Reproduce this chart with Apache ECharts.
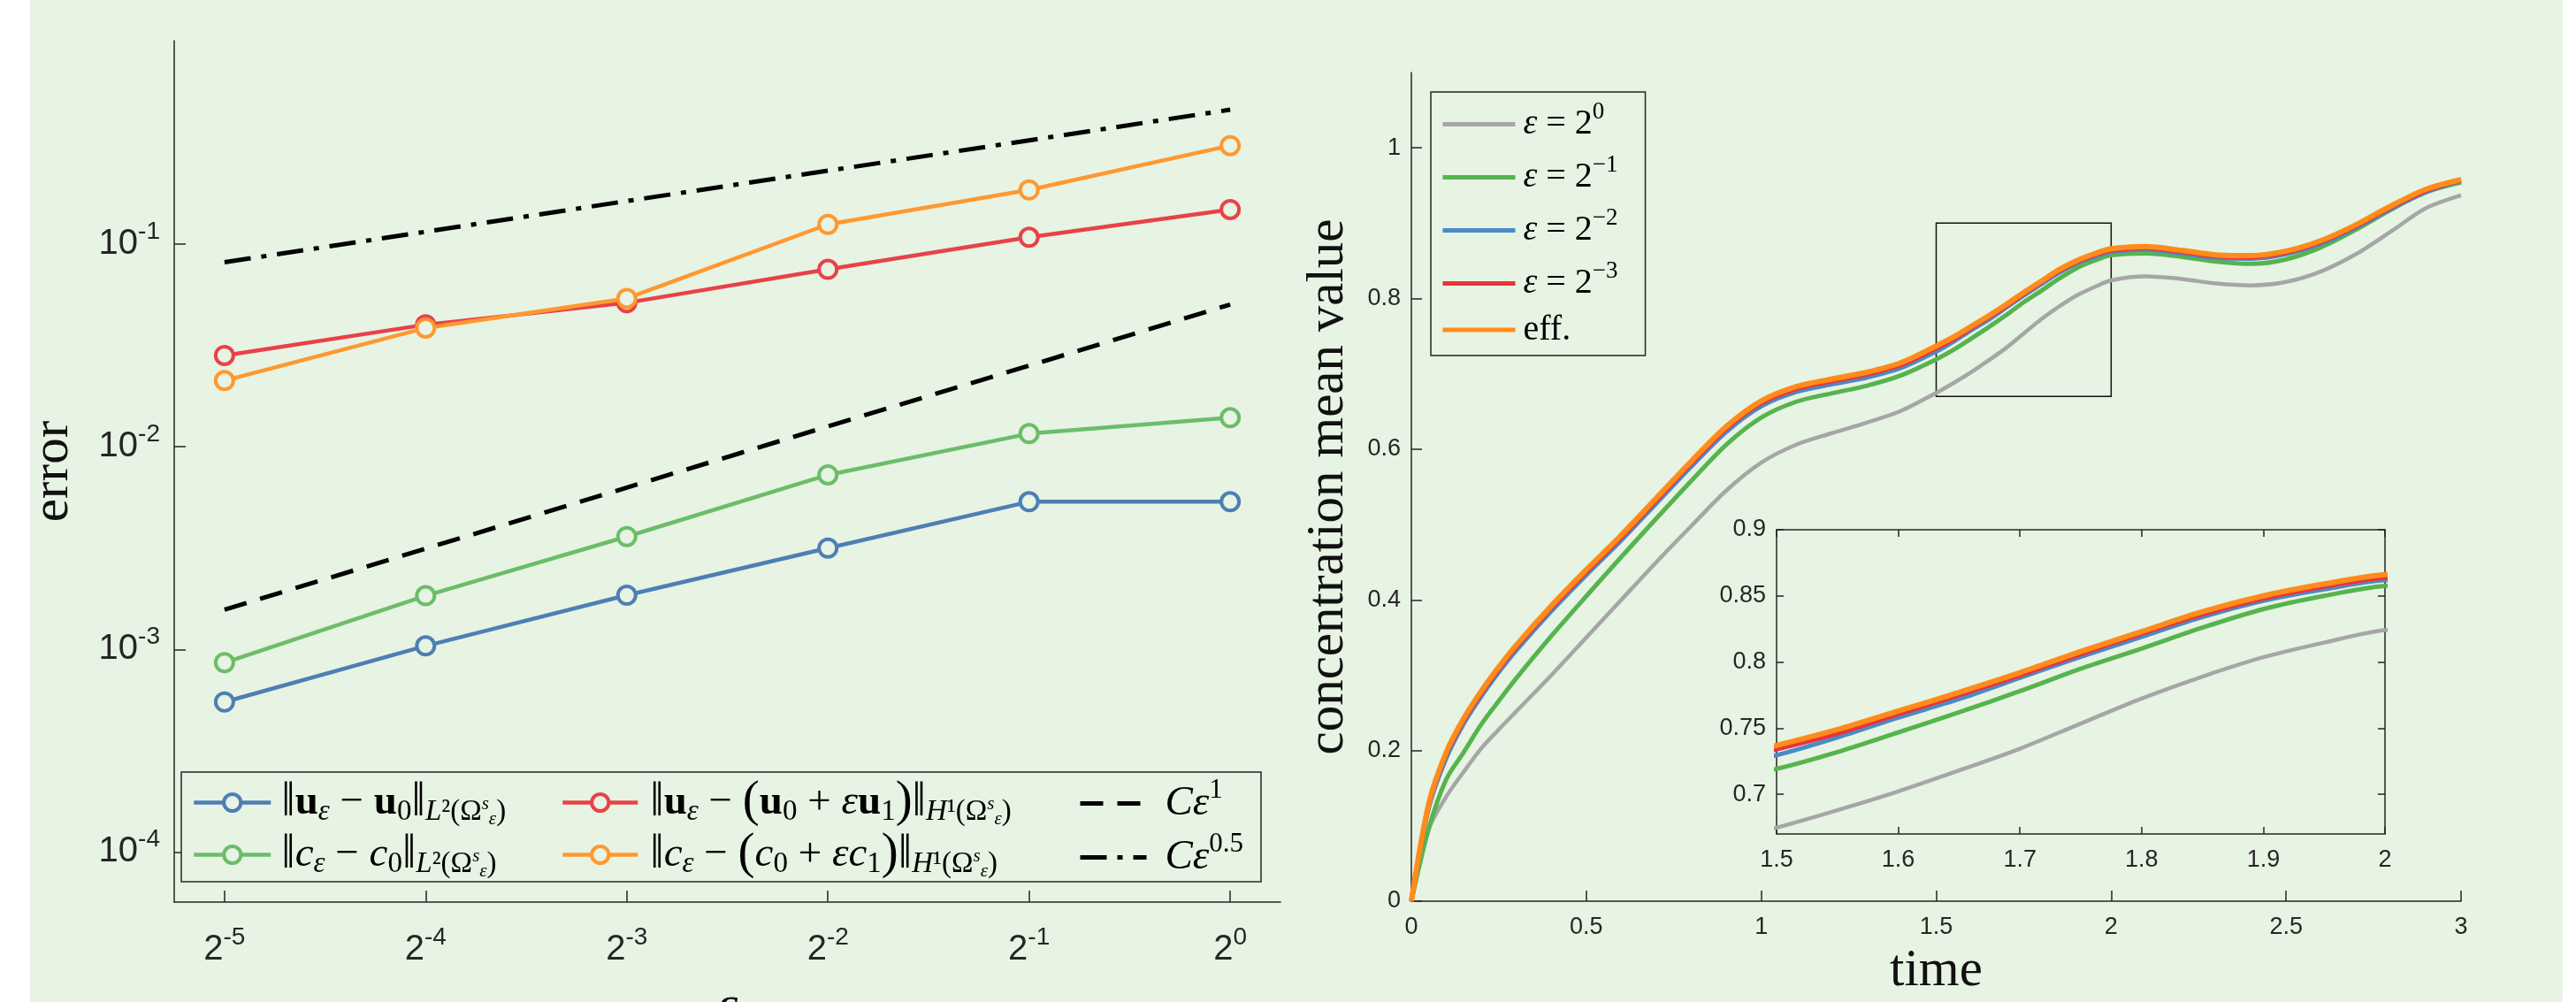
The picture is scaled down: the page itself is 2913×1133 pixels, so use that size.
<!DOCTYPE html>
<html><head><meta charset="utf-8">
<script src="https://cdn.jsdelivr.net/npm/echarts@6/dist/echarts.min.js"></script>
<style>html,body{margin:0;padding:0;background:#fff}#c{width:2913px;height:1133px}</style>
</head><body><div id="c"></div><script>
// ---------------- data: left panel (error vs epsilon) ----------------
const epsExp = ['-5', '-4', '-3', '-2', '-1', '0'];
const epsVals = [0.03125, 0.0625, 0.125, 0.25, 0.5, 1];
const errUL2 = [5.5e-4, 1.04e-3, 1.85e-3, 3.16e-3, 5.35e-3, 5.35e-3];
const errCL2 = [8.6e-4, 1.84e-3, 3.6e-3, 7.26e-3, 1.16e-2, 1.39e-2];
const errUH1 = [2.82e-2, 4.0e-2, 5.13e-2, 7.5e-2, 0.108, 0.148];
const errCH1 = [2.12e-2, 3.85e-2, 5.39e-2, 0.125, 0.185, 0.306];
const refOrder1 = [0.00157, 0.00314, 0.00628, 0.0126, 0.0251, 0.0503];
const refOrderHalf = [0.0813, 0.115, 0.163, 0.23, 0.325, 0.46];
const yTickVals = [1e-4, 1e-3, 1e-2, 1e-1];
const yTickExp = ['-4', '-3', '-2', '-1'];

// ---------------- data: right panel (concentration mean value vs time) ----------------
const times = [0,0.05,0.1,0.15,0.2,0.25,0.3,0.4,0.5,0.6,0.7,0.8,0.9,1.0,1.1,1.2,1.3,1.4,1.5,1.55,1.6,1.65,1.7,1.75,1.8,1.85,1.9,1.95,2.0,2.1,2.2,2.3,2.4,2.5,2.6,2.7,2.8,2.9,3.0];
const meanEps0 = [0,.096,.139,.172,.203,.228,.252,.300,.350,.400,.450,.498,.545,.582,.606,.621,.635,.651,.6748,.688,.7022,.718,.7345,.7535,.7724,.789,.8036,.8147,.8241,.8293,.826,.820,.8175,.822,.836,.859,.889,.920,.937];
const meanEps1 = [0,.097,.162,.198,.235,.266,.296,.352,.405,.457,.508,.558,.606,.642,.663,.674,.684,.698,.7192,.732,.7468,.762,.778,.795,.8102,.826,.840,.850,.8575,.860,.8555,.849,.846,.852,.868,.8915,.918,.9415,.954];
const meanEps2 = [0,.124,.19,.236,.272,.304,.333,.385,.433,.479,.528,.577,.623,.657,.676,.686,.695,.708,.7296,.743,.758,.772,.788,.804,.819,.834,.8463,.855,.862,.865,.860,.854,.853,.859,.873,.894,.919,.941,.956];
const meanEps3 = [0,.128,.195,.240,.276,.308,.337,.389,.437,.483,.532,.581,.627,.661,.680,.690,.699,.712,.734,.746,.7606,.775,.790,.806,.8214,.836,.848,.857,.8637,.867,.862,.856,.855,.861,.875,.896,.921,.943,.957];
const meanEff = [0,.13,.198,.243,.279,.311,.34,.392,.44,.486,.535,.584,.630,.664,.683,.693,.702,.715,.737,.749,.763,.777,.792,.808,.823,.838,.850,.859,.866,.869,.864,.858,.857,.863,.877,.898,.923,.945,.958];
const zoomBox = [1.5, 2, 0.67, 0.9];
const mainXTicks = [0, 0.5, 1, 1.5, 2, 2.5, 3];
const mainYTicks = [0, 0.2, 0.4, 0.6, 0.8, 1];
const insetXTicks = [1.5, 1.6, 1.7, 1.8, 1.9, 2];
const insetYTicks = [0.7, 0.75, 0.8, 0.85, 0.9];

// ---------------- styling ----------------
const BG = '#e7f3e3';
const AX = '#262626';
const NONE = 'rgba(0,0,0,0)';
const SANS = "'Liberation Sans', Arial, sans-serif";
const SERIF = "'Liberation Serif', 'DejaVu Serif', serif";

const leftColors = {uL2: '#4d7fb5', cL2: '#6cbd69', uH1: '#e84248', cH1: '#ff9830'};
const rightNames = ['e0', 'e1', 'e2', 'e3', 'eff'];
const rightColors = {e0: '#a6a6a6', e1: '#55b44d', e2: '#4a8ac8', e3: '#e8343a', eff: '#ff8c1a'};

function tok(size, opt) {
  return Object.assign({fontFamily: SERIF, fontSize: size, color: '#000', verticalAlign: 'middle', lineHeight: 44}, opt || {});
}
const legRich = {
  n: tok(47), b: tok(47, {fontWeight: 'bold'}), i: tok(47, {fontStyle: 'italic'}),
  bar: tok(55), big: tok(57),
  s: tok(33, {fontStyle: 'italic', lineHeight: 22, padding: [22, 0, 0, 0]}),
  sn: tok(33, {lineHeight: 22, padding: [22, 0, 0, 0]}),
  ts: tok(21, {fontStyle: 'italic', lineHeight: 16, padding: [4, 0, 0, 0]}),
  te: tok(21, {fontStyle: 'italic', lineHeight: 6, padding: [38, 0, 0, 0]}),
  sup: tok(31, {lineHeight: 14, padding: [0, 0, 30, 0]})
};
const L2 = '{s|L}{sn|²(Ω}{ts|s}{te|ε}{sn|)}';
const H1 = '{s|H}{sn|¹(Ω}{ts|s}{te|ε}{sn|)}';
const leftLabels = {
  uL2: '{bar|‖}{b|u}{s|ε}{n| − }{b|u}{sn|0}{bar|‖}' + L2,
  cL2: '{bar|‖}{i|c}{s|ε}{n| − }{i|c}{sn|0}{bar|‖}' + L2,
  uH1: '{bar|‖}{b|u}{s|ε}{n| − }{big|(}{b|u}{sn|0}{n| + }{i|ε}{b|u}{sn|1}{big|)}{bar|‖}' + H1,
  cH1: '{bar|‖}{i|c}{s|ε}{n| − }{big|(}{i|c}{sn|0}{n| + }{i|ε}{i|c}{sn|1}{big|)}{bar|‖}' + H1,
  ref1: '{i|Cε}{sup|1}',
  refHalf: '{i|Cε}{sup|0.5}'
};
const rRich = {
  e: tok(40, {fontStyle: 'italic', lineHeight: 44}), n: tok(40, {lineHeight: 44}),
  sup: tok(27, {lineHeight: 16, padding: [0, 0, 28, 0]})
};
const rightLabels = {
  e0: '{e|ε}{n| = 2}{sup|0}', e1: '{e|ε}{n| = 2}{sup|−1}', e2: '{e|ε}{n| = 2}{sup|−2}',
  e3: '{e|ε}{n| = 2}{sup|−3}', eff: '{n|eff.}'
};
const tickRich = {
  base: {fontFamily: SANS, fontSize: 40, color: AX, lineHeight: 44},
  sup: {fontFamily: SANS, fontSize: 28, color: AX, lineHeight: 16, padding: [0, 0, 28, 0]}
};

function idx(arr, v) {
  let best = 0, bd = Infinity;
  arr.forEach((a, k) => { const d = Math.abs(Math.log(a) - Math.log(v)); if (d < bd) { bd = d; best = k; } });
  return best;
}
function pairs(xs, ys) { return xs.map((x, k) => [x, ys[k]]); }

const axisLineS = {show: true, onZero: false, lineStyle: {color: AX, width: 1.5}};

// ---------------- series ----------------
const series = [];
function leftMarked(name, ys) {
  series.push({
    name, type: 'line', xAxisIndex: 0, yAxisIndex: 0, data: pairs(epsVals, ys),
    symbol: 'circle', symbolSize: 20,
    itemStyle: {color: BG, borderColor: leftColors[name], borderWidth: 4},
    lineStyle: {color: leftColors[name], width: 4.5}, z: 5
  });
}
leftMarked('uL2', errUL2);
leftMarked('cL2', errCL2);
leftMarked('uH1', errUH1);
leftMarked('cH1', errCH1);
series.push({name: 'ref1', type: 'line', xAxisIndex: 0, yAxisIndex: 0, data: pairs(epsVals, refOrder1),
  symbol: 'none', itemStyle: {color: NONE}, lineStyle: {color: '#000', width: 5, type: [26, 16]}, z: 4});
series.push({name: 'refHalf', type: 'line', xAxisIndex: 0, yAxisIndex: 0, data: pairs(epsVals, refOrderHalf),
  symbol: 'none', itemStyle: {color: NONE}, lineStyle: {color: '#000', width: 5, type: [30, 12, 6, 12]}, z: 4});

const rightData = {e0: meanEps0, e1: meanEps1, e2: meanEps2, e3: meanEps3, eff: meanEff};
const rightWidth = {e0: 4.5, e1: 5, e2: 5, e3: 5, eff: 6};
rightNames.forEach((nm, k) => {
  [1, 2].forEach(g => {
    const s = {
      name: nm, type: 'line', xAxisIndex: g, yAxisIndex: g, data: pairs(times, rightData[nm]),
      symbol: 'none', smooth: 0.3, clip: true,
      itemStyle: {color: NONE}, lineStyle: {color: rightColors[nm], width: rightWidth[nm]}, z: 5 + k
    };
    if (g === 1 && k === 0) {
      s.markArea = {silent: true, itemStyle: {color: NONE, borderColor: '#111', borderWidth: 1.5},
        data: [[{coord: [zoomBox[0], zoomBox[2]]}, {coord: [zoomBox[1], zoomBox[3]]}]]};
    }
    series.push(s);
  });
});

function legend(names, left, top, iw, gap, lw) {
  return {
    orient: 'vertical', left, top, padding: 0, itemGap: 0, itemWidth: iw, itemHeight: 24,
    data: names, selectedMode: false,
    formatter: n => leftLabels[n],
    lineStyle: {width: lw}, itemStyle: {borderWidth: 4},
    textStyle: {rich: legRich, padding: [0, 0, 0, gap]}
  };
}

const option = {
  animation: false,
  backgroundColor: '#fff',
  graphic: [
    {type: 'rect', z: -10, silent: true, shape: {x: 34, y: 0, width: 2864, height: 1133}, style: {fill: BG}},
    {type: 'rect', z: 1, silent: true, shape: {x: 205, y: 873, width: 1221, height: 124}, style: {fill: BG, stroke: AX, lineWidth: 1.5}}
  ],
  grid: [
    {left: 197, top: 46, width: 1251, height: 974, outerBoundsMode: 'none'},
    {left: 1596, top: 82, width: 1187, height: 937, outerBoundsMode: 'none'},
    {left: 2009, top: 599, width: 688, height: 344, outerBoundsMode: 'none'}
  ],
  xAxis: [
    {type: 'log', logBase: 2, gridIndex: 0, min: Math.pow(2, -5.25), max: Math.pow(2, 0.25),
      axisLine: axisLineS, splitLine: {show: false},
      axisTick: {inside: true, length: 13, lineStyle: {color: AX, width: 1.5}, customValues: epsVals},
      axisLabel: {customValues: epsVals, margin: 32, fontFamily: SANS, fontSize: 40, color: AX,
        formatter: v => '{base|2}{sup|' + epsExp[idx(epsVals, v)] + '}', rich: tickRich},
      name: 'ε', nameLocation: 'middle', nameGap: 90, nameMoveOverlap: false,
      nameTextStyle: {fontFamily: SERIF, fontStyle: 'italic', fontSize: 59, color: '#111'}},
    {type: 'value', gridIndex: 1, min: 0, max: 3, interval: 0.5,
      axisLine: axisLineS, splitLine: {show: false},
      axisTick: {inside: true, length: 12, lineStyle: {color: AX, width: 1.5}, customValues: mainXTicks},
      axisLabel: {customValues: mainXTicks, margin: 16, fontFamily: SANS, fontSize: 27, color: AX},
      name: 'time', nameLocation: 'middle', nameGap: 50, nameMoveOverlap: false,
      nameTextStyle: {fontFamily: SERIF, fontSize: 59, color: '#111'}},
    {type: 'value', gridIndex: 2, min: 1.5, max: 2, interval: 0.1,
      axisLine: axisLineS, splitLine: {show: false},
      axisTick: {inside: true, length: 8, lineStyle: {color: AX, width: 1.5}, customValues: insetXTicks},
      axisLabel: {customValues: insetXTicks, margin: 16, fontFamily: SANS, fontSize: 27, color: AX}},
    {type: 'value', gridIndex: 2, position: 'top', min: 1.5, max: 2, interval: 0.1,
      axisLine: axisLineS, splitLine: {show: false},
      axisTick: {inside: true, length: 8, lineStyle: {color: AX, width: 1.5}, customValues: insetXTicks},
      axisLabel: {show: false}}
  ],
  yAxis: [
    {type: 'log', logBase: 10, gridIndex: 0, min: Math.pow(10, -4.247), max: Math.pow(10, 0.0035),
      axisLine: axisLineS, splitLine: {show: false},
      axisTick: {inside: true, length: 13, lineStyle: {color: AX, width: 1.5}, customValues: yTickVals},
      axisLabel: {customValues: yTickVals, margin: 16, fontFamily: SANS, fontSize: 40, color: AX,
        formatter: v => '{base|10}{sup|' + yTickExp[idx(yTickVals, v)] + '}', rich: tickRich},
      name: 'error', nameLocation: 'middle', nameGap: 107, nameMoveOverlap: false,
      nameTextStyle: {fontFamily: SERIF, fontSize: 59, color: '#111'}},
    {type: 'value', gridIndex: 1, min: 0, max: 1.1, interval: 0.2,
      axisLine: axisLineS, splitLine: {show: false},
      axisTick: {inside: true, length: 12, lineStyle: {color: AX, width: 1.5}, customValues: mainYTicks},
      axisLabel: {customValues: mainYTicks, margin: 12, fontFamily: SANS, fontSize: 27, color: AX},
      name: 'concentration mean value', nameLocation: 'middle', nameGap: 64, nameMoveOverlap: false,
      nameTextStyle: {fontFamily: SERIF, fontSize: 59, color: '#111'}},
    {type: 'value', gridIndex: 2, min: 0.67, max: 0.9,
      axisLine: axisLineS, splitLine: {show: false},
      axisTick: {inside: true, length: 8, lineStyle: {color: AX, width: 1.5}, customValues: insetYTicks},
      axisLabel: {customValues: insetYTicks, margin: 12, fontFamily: SANS, fontSize: 27, color: AX}},
    {type: 'value', gridIndex: 2, position: 'right', min: 0.67, max: 0.9,
      axisLine: axisLineS, splitLine: {show: false},
      axisTick: {inside: true, length: 8, lineStyle: {color: AX, width: 1.5}, customValues: insetYTicks},
      axisLabel: {show: false}}
  ],
  legend: [
    legend(['uL2', 'cL2'], 217, 878, 87, 7, 4.5),
    legend(['uH1', 'cH1'], 634, 878, 85, 9, 4.5),
    legend(['ref1', 'refHalf'], 1219, 878, 75, 16, 5),
    {orient: 'vertical', left: 1618, top: 104, padding: [9, 31, 9, 11], itemGap: 5, itemWidth: 82, itemHeight: 20,
      data: rightNames, selectedMode: false, borderColor: AX, borderWidth: 1.5, backgroundColor: BG,
      lineStyle: {width: 5},
      formatter: n => rightLabels[n], textStyle: {rich: rRich, padding: [0, 0, 0, 4]}}
  ],
  series
};
const chart = echarts.init(document.getElementById('c'), null, {renderer: 'canvas'});
chart.setOption(option);
</script></body></html>
